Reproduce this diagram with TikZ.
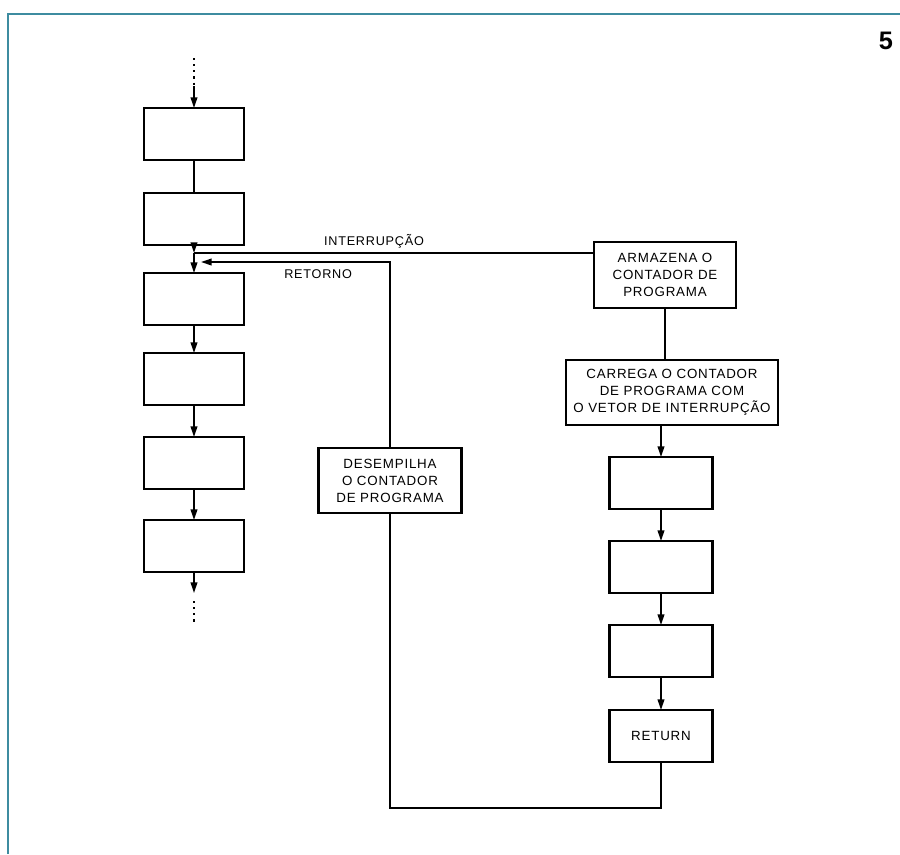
\documentclass[tikz,border=0pt]{standalone}
\usepackage{fontspec}
\newfontfamily\diagfont[LetterSpace=6]{Liberation Sans}
\newfontfamily\numfont{Liberation Sans}
\usepackage{tikz}
\usetikzlibrary{arrows.meta,positioning}
\definecolor{framecol}{RGB}{62,140,160}

\begin{document}
\begin{tikzpicture}[
  x=0.75pt, y=-0.75pt,
  blk/.style={rectangle, draw, line width=2pt, outer sep=0pt, minimum width=75pt, minimum height=39pt, inner sep=0pt},
  rblk/.style={blk, minimum width=77pt},
  txtbox/.style={rectangle, draw, line width=2pt, outer sep=0pt, align=center, inner sep=2pt, font=\diagfont\fontsize{10}{12.75}\selectfont},
  arr/.style={-{Triangle[length=8pt, width=5pt]}, line width=1.3pt},
  ln/.style={line width=1.3pt},
  dotln/.style={line width=1.6pt, dash pattern=on 1.6pt off 3pt},
  lbl/.style={font=\diagfont\fontsize{9.5}{11}\selectfont, inner sep=1pt}
]
\useasboundingbox (0,0) rectangle (900,854);

% Frame and figure number
\draw[framecol, line width=1.5pt] (8,854) -- (8,14) -- (900,14);
\node[font=\numfont\bfseries\fontsize{19}{19}\selectfont] (fignum) at (886,41) {5};

% Left column: main program
\node[blk] (b1) at (194,134) {};
\node[blk, below=24.75pt of b1] (b2) {};
\node[blk, below=21pt of b2] (b3) {};
\node[blk, below=21pt of b3] (b4) {};
\node[blk, below=24pt of b4] (b5) {};
\node[blk, below=23.25pt of b5] (b6) {};

% Right column: interrupt routine
\node[txtbox, minimum width=106.5pt, minimum height=49.5pt] (arm) at (665,275) {ARMAZENA O\\CONTADOR DE\\PROGRAMA};
\node[txtbox, minimum width=159pt, minimum height=48.75pt, below=39pt of arm, xshift=5.25pt] (carr) {CARREGA O CONTADOR\\DE PROGRAMA COM\\O VETOR DE INTERRUPÇÃO};
\node[rblk, below=24pt of carr, xshift=-8.25pt] (r1) {};
\node[rblk, below=24pt of r1] (r2) {};
\node[rblk, below=24pt of r2] (r3) {};
\node[txtbox, minimum width=77pt, minimum height=39pt, below=24.75pt of r3] (ret) {RETURN};

% Return path
\node[txtbox, minimum width=107.25pt, minimum height=48.75pt] (desemp) at (390,480.5) {DESEMPILHA\\O CONTADOR\\DE PROGRAMA};

% Coordinates for free ends
\coordinate (dtop) at (194,58);
\coordinate (dend) at (194,86);
\coordinate (jint) at (194,253);
\coordinate (jret) at (201,262);
\coordinate (bout) at (194,593);
\coordinate (bdot1) at (194,601);
\coordinate (bdot2) at (194,622);

% Arrows: main program
\draw[dotln] (dtop) -- (dend);
\draw[arr] (dend) -- (b1);
\draw[ln] (b1) -- (b2);
\draw[arr] (b2) -- (jint);
\draw[arr] (jint) -- (b3);
\draw[arr] (b3) -- (b4);
\draw[arr] (b4) -- (b5);
\draw[arr] (b5) -- (b6);
\draw[arr] (b6) -- (bout);
\draw[dotln] (bdot1) -- (bdot2);

% Interrupt and return
\draw[ln] (arm.west |- jint) -- node[lbl, above=2pt, pos=0.55] (tint) {INTERRUPÇÃO} (jint);
\draw[arr] (desemp.north) |- node[lbl, below=4pt, pos=0.69] (tret) {RETORNO} (jret);

% Arrows: interrupt routine
\draw[ln] (arm.south) -- (arm.south |- carr.north);
\draw[arr] (r1.north |- carr.south) -- (r1);
\draw[arr] (r1) -- (r2);
\draw[arr] (r2) -- (r3);
\draw[arr] (r3) -- (ret);
\draw[ln] (ret.south) -- ++(0,46) -| (desemp.south);

\end{tikzpicture}
\end{document}
